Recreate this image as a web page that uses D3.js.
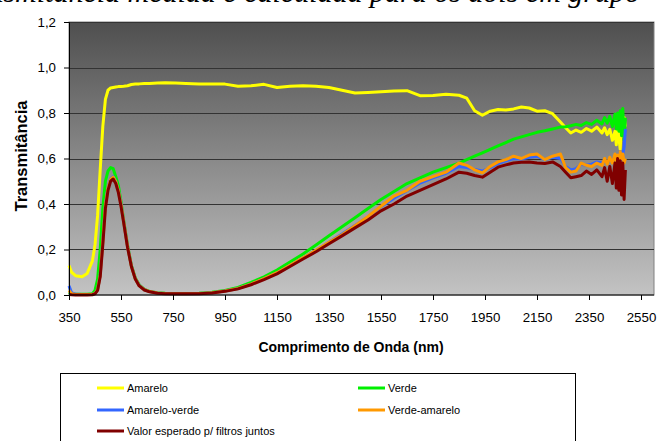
<!DOCTYPE html>
<html>
<head>
<meta charset="utf-8">
<script src="https://cdn.jsdelivr.net/npm/d3@7"></script>
<style>
  body { margin: 0; background: #fff; }
  svg { display: block; font-family: Arial, "Liberation Sans", sans-serif; }
</style>
</head>
<body>
<svg id="chart" width="658" height="441"></svg>
<script>
// wavelength grid (nm), shared by every series
var wavelengths = [350, 360, 375, 400, 420, 440, 450, 460, 470, 480, 490, 500, 510, 520, 530, 540, 550, 560, 575, 590,
  605, 620, 640, 660, 690, 720, 760, 800, 850, 900, 950, 1000, 1050, 1100, 1150, 1200, 1250, 1300, 1350, 1400,
  1450, 1500, 1550, 1600, 1650, 1700, 1750, 1800, 1850, 1880, 1910, 1940, 1970, 2000, 2030, 2060, 2090, 2120,
  2150, 2180, 2210, 2240, 2260, 2280, 2300, 2320, 2340, 2360, 2380, 2400, 2410, 2420, 2430, 2440, 2450, 2455,
  2460, 2465, 2470, 2475, 2480, 2485, 2490];

var amarelo = [0.13, 0.10, 0.085, 0.08, 0.095, 0.15, 0.22, 0.35, 0.55, 0.74, 0.86, 0.90, 0.91, 0.912, 0.914, 0.916, 0.917, 0.918, 0.92, 0.925,
  0.927, 0.928, 0.93, 0.93, 0.932, 0.933, 0.932, 0.93, 0.928, 0.927, 0.927, 0.918, 0.92, 0.926, 0.912, 0.918, 0.92, 0.918, 0.912, 0.90,
  0.888, 0.89, 0.893, 0.897, 0.898, 0.876, 0.877, 0.882, 0.878, 0.865, 0.81, 0.79, 0.808, 0.815, 0.813, 0.818, 0.826, 0.822,
  0.808, 0.81, 0.797, 0.76, 0.735, 0.712, 0.725, 0.715, 0.732, 0.72, 0.738, 0.712, 0.735, 0.705, 0.728, 0.68, 0.72, 0.66,
  0.74, 0.69, 0.64, 0.76, 0.70, 0.78, 0.74];

var verde = [0.012, 0.005, 0.003, 0.003, 0.003, 0.006, 0.02, 0.07, 0.20, 0.38, 0.50, 0.545, 0.56, 0.555, 0.52, 0.48, 0.41, 0.33, 0.22, 0.13,
  0.075, 0.045, 0.025, 0.016, 0.01, 0.008, 0.007, 0.007, 0.008, 0.012, 0.02, 0.033, 0.055, 0.08, 0.11, 0.145, 0.18, 0.22, 0.26, 0.30,
  0.34, 0.38, 0.42, 0.455, 0.49, 0.515, 0.54, 0.56, 0.58, 0.595, 0.61, 0.625, 0.64, 0.655, 0.67, 0.685, 0.695, 0.705,
  0.715, 0.722, 0.73, 0.738, 0.74, 0.744, 0.75, 0.745, 0.758, 0.75, 0.768, 0.752, 0.78, 0.755, 0.785, 0.74, 0.795, 0.73,
  0.80, 0.72, 0.81, 0.70, 0.82, 0.68, 0.78];

var amareloVerde = [0.04, 0.01, 0.003, 0.002, 0.002, 0.003, 0.006, 0.025, 0.09, 0.24, 0.40, 0.475, 0.51, 0.52, 0.50, 0.46, 0.40, 0.325, 0.215, 0.128,
  0.072, 0.042, 0.023, 0.015, 0.009, 0.007, 0.006, 0.006, 0.007, 0.01, 0.018, 0.029, 0.048, 0.072, 0.098, 0.13, 0.163, 0.196, 0.232, 0.268,
  0.306, 0.343, 0.388, 0.425, 0.458, 0.492, 0.515, 0.535, 0.565, 0.56, 0.552, 0.545, 0.56, 0.578, 0.59, 0.60, 0.598, 0.605,
  0.61, 0.595, 0.605, 0.60, 0.565, 0.55, 0.555, 0.575, 0.57, 0.575, 0.585, 0.58, 0.595, 0.58, 0.60, 0.59, 0.61, 0.59,
  0.615, 0.585, 0.63, 0.60, 0.62, 0.65, 0.73];

var verdeAmarelo = [0.02, 0.006, 0.002, 0.002, 0.002, 0.003, 0.006, 0.024, 0.088, 0.235, 0.395, 0.47, 0.508, 0.518, 0.498, 0.458, 0.398, 0.324, 0.214, 0.127,
  0.071, 0.041, 0.023, 0.015, 0.009, 0.007, 0.006, 0.006, 0.007, 0.01, 0.018, 0.029, 0.048, 0.072, 0.098, 0.13, 0.163, 0.197, 0.232, 0.265,
  0.305, 0.345, 0.39, 0.435, 0.46, 0.50, 0.52, 0.54, 0.58, 0.57, 0.55, 0.537, 0.565, 0.585, 0.595, 0.61, 0.60, 0.615,
  0.62, 0.595, 0.61, 0.62, 0.56, 0.54, 0.545, 0.58, 0.57, 0.565, 0.58, 0.57, 0.60, 0.575, 0.605, 0.58, 0.62, 0.59,
  0.615, 0.57, 0.63, 0.60, 0.62, 0.58, 0.60];

var valorEsperado = [0.002, 0.001, 0.0, 0.0, 0.0, 0.001, 0.005, 0.02, 0.08, 0.22, 0.38, 0.46, 0.50, 0.51, 0.49, 0.45, 0.39, 0.32, 0.21, 0.125,
  0.07, 0.04, 0.022, 0.014, 0.008, 0.006, 0.005, 0.005, 0.006, 0.009, 0.016, 0.027, 0.045, 0.068, 0.093, 0.125, 0.158, 0.19, 0.225, 0.26,
  0.295, 0.33, 0.37, 0.40, 0.435, 0.46, 0.485, 0.51, 0.54, 0.535, 0.525, 0.518, 0.54, 0.562, 0.572, 0.58, 0.583, 0.585,
  0.58, 0.578, 0.585, 0.565, 0.54, 0.515, 0.52, 0.525, 0.545, 0.53, 0.55, 0.52, 0.56, 0.50, 0.565, 0.49, 0.58, 0.47,
  0.60, 0.46, 0.59, 0.44, 0.58, 0.42, 0.55];

var seriesNames = ["Amarelo", "Verde", "Amarelo-verde", "Verde-amarelo", "Valor esperado p/ filtros juntos"];
var seriesColors = ["#ffff00", "#00f000", "#3366ff", "#ff9900", "#800000"];
var seriesValues = [amarelo, verde, amareloVerde, verdeAmarelo, valorEsperado];

var xTicks = [350, 550, 750, 950, 1150, 1350, 1550, 1750, 1950, 2150, 2350, 2550];
var yTicks = [0, 0.2, 0.4, 0.6, 0.8, 1.0, 1.2];

(function() {
  var svg = d3.select("#chart");
  var plotLeft = 69, plotRight = 654, plotTop = 22, plotBottom = 295;

  var x = d3.scaleLinear().domain([350, 2600]).range([plotLeft, plotRight]);
  var y = d3.scaleLinear().domain([0, 1.2]).range([plotBottom, plotTop]);

  // chart title, cut off above the picture (only descenders show)
  svg.append("text")
    .attr("x", 640).attr("y", 2)
    .attr("text-anchor", "end")
    .style("font-family", "'Liberation Serif', 'Times New Roman', serif")
    .style("font-style", "italic")
    .style("font-size", "30px")
    .text("Transmitância medida e calculada para os dois em grupo");

  // gradient background of the plot area
  var grad = svg.append("defs").append("linearGradient")
    .attr("id", "bg").attr("x1", 0).attr("y1", 0).attr("x2", 0).attr("y2", 1);
  grad.append("stop").attr("offset", "0%").attr("stop-color", "#4f4f4f");
  grad.append("stop").attr("offset", "100%").attr("stop-color", "#c3c3c3");

  svg.append("rect")
    .attr("x", plotLeft).attr("y", plotTop)
    .attr("width", plotRight - plotLeft).attr("height", plotBottom - plotTop)
    .attr("fill", "url(#bg)")
    .attr("stroke", "#808080").attr("stroke-width", 1);

  // gridlines
  svg.append("g").selectAll("line")
    .data(yTicks.filter(function(d) { return d > 0; }))
    .enter().append("line")
    .attr("x1", plotLeft).attr("x2", plotRight)
    .attr("y1", function(d) { return Math.round(y(d)) + 0.5; })
    .attr("y2", function(d) { return Math.round(y(d)) + 0.5; })
    .attr("stroke", "#333").attr("stroke-width", 1);

  // series lines
  var line = d3.line()
    .x(function(d, i) { return x(wavelengths[i]); })
    .y(function(d) { return y(d); });

  svg.append("g").selectAll("path")
    .data(seriesValues)
    .enter().append("path")
    .attr("d", line)
    .attr("fill", "none")
    .attr("stroke", function(d, i) { return seriesColors[i]; })
    .attr("stroke-width", 3)
    .attr("stroke-linejoin", "round");

  // axes
  var fmt = function(d) { return d3.format(".1f")(d).replace(".", ","); };

  var xAxis = svg.append("g")
    .attr("transform", "translate(0," + plotBottom + ")")
    .call(d3.axisBottom(x).tickValues(xTicks).tickSize(5).tickPadding(13).tickFormat(d3.format("d")));
  var yAxis = svg.append("g")
    .attr("transform", "translate(" + plotLeft + ",0)")
    .call(d3.axisLeft(y).tickValues(yTicks).tickSize(5).tickPadding(8).tickFormat(fmt));

  [xAxis, yAxis].forEach(function(a) {
    a.selectAll("path, line").attr("stroke", "#000");
    a.selectAll("text").attr("fill", "#000").style("font-size", "13.3px")
      .style("font-family", "Arial, 'Liberation Sans', sans-serif");
  });
  xAxis.select(".domain").attr("d", "M" + plotLeft + ",0H" + plotRight);

  // axis titles
  svg.append("text")
    .attr("x", 351).attr("y", 352)
    .attr("text-anchor", "middle")
    .style("font-weight", "bold").style("font-size", "14px")
    .text("Comprimento de Onda (nm)");

  svg.append("text")
    .attr("transform", "translate(27,156) rotate(-90)")
    .attr("text-anchor", "middle")
    .style("font-weight", "bold").style("font-size", "16.5px")
    .text("Transmitância");

  // legend
  var legendPos = [[97, 388], [358, 388], [97, 410], [358, 410], [97, 431]];

  svg.append("rect")
    .attr("x", 60.5).attr("y", 373.5)
    .attr("width", 515).attr("height", 80)
    .attr("fill", "#fff").attr("stroke", "#000").attr("stroke-width", 1);

  var items = svg.append("g").selectAll("g")
    .data(seriesNames)
    .enter().append("g")
    .attr("transform", function(d, i) { return "translate(" + legendPos[i][0] + "," + legendPos[i][1] + ")"; });

  items.append("line")
    .attr("x1", 0).attr("x2", 27)
    .attr("stroke", function(d, i) { return seriesColors[i]; })
    .attr("stroke-width", 3);

  items.append("text")
    .attr("x", 30).attr("y", 4)
    .style("font-size", "11px")
    .text(function(d) { return d; });
})();
</script>
</body>
</html>
